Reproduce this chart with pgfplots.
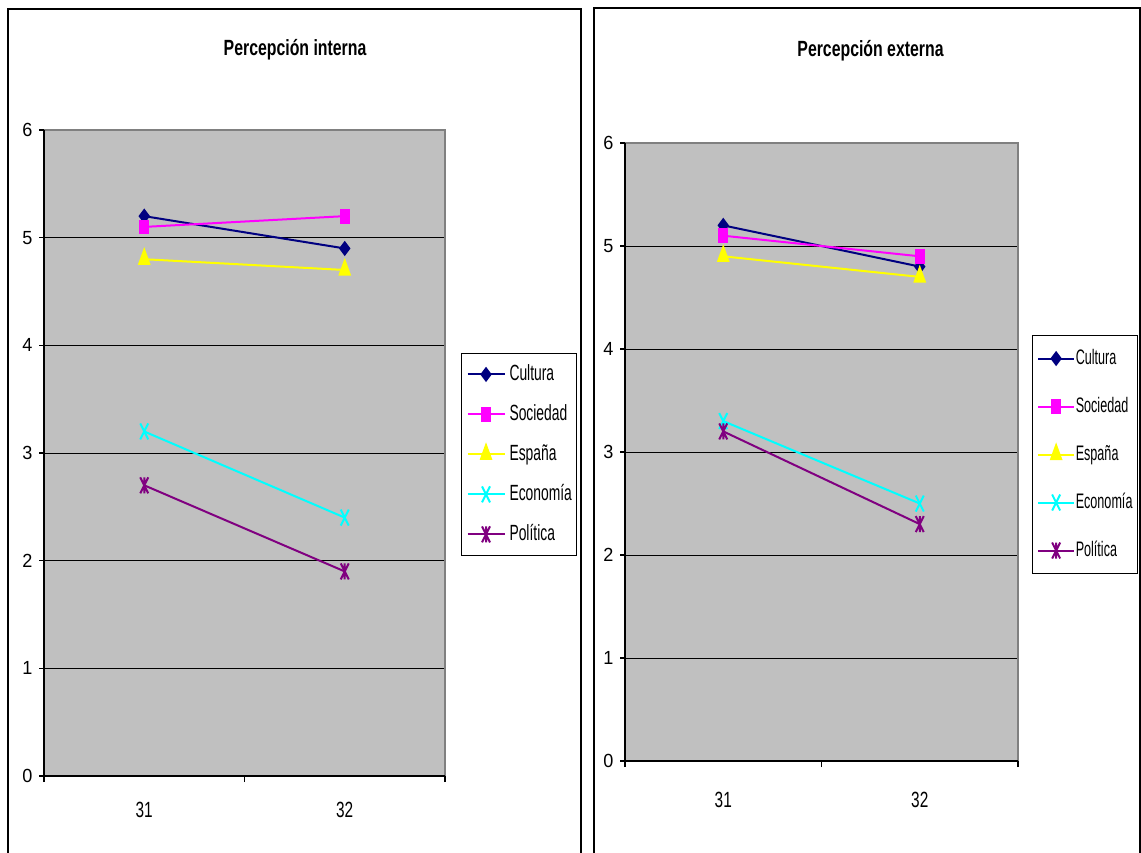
\documentclass[border=0pt]{standalone}
\usepackage{fontspec}
\setmainfont{Liberation Sans}[FakeStretch=0.7]
\newfontfamily\legfont{Liberation Sans}[FakeStretch=0.63]
\newfontfamily\legfontb{Liberation Sans}[FakeStretch=0.6]
\newfontfamily\yfont{Liberation Sans}[FakeStretch=0.95]
\newfontfamily\ttlfont{Liberation Sans}[FakeStretch=0.72]
\usepackage{pgfplots}
\pgfplotsset{compat=1.18}

\definecolor{cCult}{HTML}{000080}
\definecolor{cSoc}{HTML}{FF00FF}
\definecolor{cEsp}{HTML}{FFFF00}
\definecolor{cEco}{HTML}{00FFFF}
\definecolor{cPol}{HTML}{800080}
\definecolor{plotbg}{HTML}{C0C0C0}
\definecolor{frameg}{HTML}{808080}

\pgfdeclareplotmark{tallx}{%
  \pgfpathmoveto{\pgfqpoint{-0.5\pgfplotmarksize}{-\pgfplotmarksize}}%
  \pgfpathlineto{\pgfqpoint{0.5\pgfplotmarksize}{\pgfplotmarksize}}%
  \pgfpathmoveto{\pgfqpoint{-0.5\pgfplotmarksize}{\pgfplotmarksize}}%
  \pgfpathlineto{\pgfqpoint{0.5\pgfplotmarksize}{-\pgfplotmarksize}}%
  \pgfusepathqstroke}
\pgfdeclareplotmark{xstar}{%
  \pgfpathmoveto{\pgfqpoint{-0.5\pgfplotmarksize}{-\pgfplotmarksize}}%
  \pgfpathlineto{\pgfqpoint{0.5\pgfplotmarksize}{\pgfplotmarksize}}%
  \pgfpathmoveto{\pgfqpoint{-0.5\pgfplotmarksize}{\pgfplotmarksize}}%
  \pgfpathlineto{\pgfqpoint{0.5\pgfplotmarksize}{-\pgfplotmarksize}}%
  \pgfpathmoveto{\pgfqpoint{0pt}{-\pgfplotmarksize}}%
  \pgfpathlineto{\pgfqpoint{0pt}{\pgfplotmarksize}}%
  \pgfusepathqstroke}

\pgfplotstableread{
x Cultura Sociedad Espana Economia Politica
1 5.2 5.1 4.8 3.2 2.7
2 4.9 5.2 4.7 2.4 1.9
}\interna
\pgfplotstableread{
x Cultura Sociedad Espana Economia Politica
1 5.2 5.1 4.9 3.3 3.2
2 4.8 4.9 4.7 2.5 2.3
}\externa

\pgfplotsset{
  mychart/.style={
    scale only axis,
    xmin=0.5, xmax=2.5, ymin=0, ymax=6,
    xtick={1,2}, xticklabels={31,32},
    every major x tick/.append style={draw=none},
    minor xtick={0.5,1.5,2.5},
    ytick={0,1,2,3,4,5,6},
    xtick pos=bottom, ytick pos=left,
    tick align=outside,
    major tick length=2.3pt, minor tick length=3pt,
    tick style={black, line width=0.6pt},
    ymajorgrids, grid style={black, line width=0.5pt},
    axis line style={draw=none},
    axis background/.style={fill=plotbg},
    /pgf/number format/assume math mode=true,
    yticklabel style={font=\yfont\fontsize{9.5}{10}\selectfont},
    xticklabel style={font=\fontsize{11}{12}\selectfont, anchor=base},
    every axis plot/.append style={line width=1pt, mark options={solid}},
    legend cell align=left,
    after end axis/.code={
      \draw[frameg, line width=0.8pt] (rel axis cs:0,1) -- (rel axis cs:1,1) -- (rel axis cs:1,0);
      \draw[black, line width=0.8pt] (rel axis cs:0,1) -- (rel axis cs:0,0) -- (rel axis cs:1,0);
    },
  },
  pCult/.style={color=cCult, mark=diamond*, mark size=3pt},
  pSoc/.style={color=cSoc, mark=square*, mark size=3.2pt, mark options={solid, xscale=0.62}},
  pEsp/.style={color=cEsp, mark=triangle*, mark size=4.6pt, mark options={solid, xscale=0.63}},
  pEco/.style={color=cEco, mark=tallx, mark size=4pt},
  pPol/.style={color=cPol, mark=xstar, mark size=4pt},
}

\begin{document}
\begin{tikzpicture}
\useasboundingbox (0,0) rectangle (570.5pt,-426pt);
\draw[black, line width=1pt] (4pt,-440pt) -- (4pt,-4.5pt) -- (290.5pt,-4.5pt) -- (290.5pt,-440pt);
\draw[black, line width=1pt] (297pt,-440pt) -- (297pt,-4pt) -- (570pt,-4pt) -- (570pt,-440pt);

\begin{axis}[mychart,
  at={(22pt,-388pt)}, anchor=south west,
  width=200.5pt, height=323pt,
  title={Percepción interna},
  title style={font=\ttlfont\bfseries\fontsize{11}{12}\selectfont, at={(0.626,1.096)}, anchor=base},
  xticklabel style={yshift=-18.5pt},
  legend image code/.code={\draw[mark repeat=2,mark phase=2] plot coordinates {(0cm,0cm) (0.325cm,0cm) (0.65cm,0cm)};},
  legend style={at={(1.04,0.655)}, anchor=north west, draw=black, line width=0.5pt, fill=white,
    font=\legfont\fontsize{11}{12}\selectfont, inner xsep=2.5pt, inner ysep=5.5pt,
    row sep=10pt, column sep=2pt, nodes={inner sep=0pt, text height=8pt, text depth=2pt}},
]
\addplot[pCult] table[x=x, y=Cultura] {\interna};
\addplot[pSoc] table[x=x, y=Sociedad] {\interna};
\addplot[pEsp] table[x=x, y=Espana] {\interna};
\addplot[pEco] table[x=x, y=Economia] {\interna};
\addplot[pPol] table[x=x, y=Politica] {\interna};
\legend{Cultura, Sociedad, España, Economía, Política}
\end{axis}

\begin{axis}[mychart,
  at={(312.5pt,-380.5pt)}, anchor=south west,
  width=196.5pt, height=309pt,
  title={Percepción externa},
  title style={font=\ttlfont\bfseries\fontsize{11}{12}\selectfont, at={(0.6247,1.12)}, anchor=base},
  xticklabel style={yshift=-21pt},
  legend image code/.code={\draw[mark repeat=2,mark phase=2] plot coordinates {(0cm,0cm) (0.31cm,0cm) (0.62cm,0cm)};},
  legend style={at={(1.0356,0.6893)}, anchor=north west, draw=black, line width=0.5pt, fill=white,
    font=\legfontb\fontsize{10.5}{11}\selectfont, inner xsep=2.5pt, inner ysep=6.5pt,
    row sep=14pt, column sep=0.5pt, nodes={inner sep=0pt, text height=8pt, text depth=2pt}},
]
\addplot[pCult] table[x=x, y=Cultura] {\externa};
\addplot[pSoc] table[x=x, y=Sociedad] {\externa};
\addplot[pEsp] table[x=x, y=Espana] {\externa};
\addplot[pEco] table[x=x, y=Economia] {\externa};
\addplot[pPol] table[x=x, y=Politica] {\externa};
\legend{Cultura, Sociedad, España, Economía, Política}
\end{axis}
\end{tikzpicture}
\end{document}
